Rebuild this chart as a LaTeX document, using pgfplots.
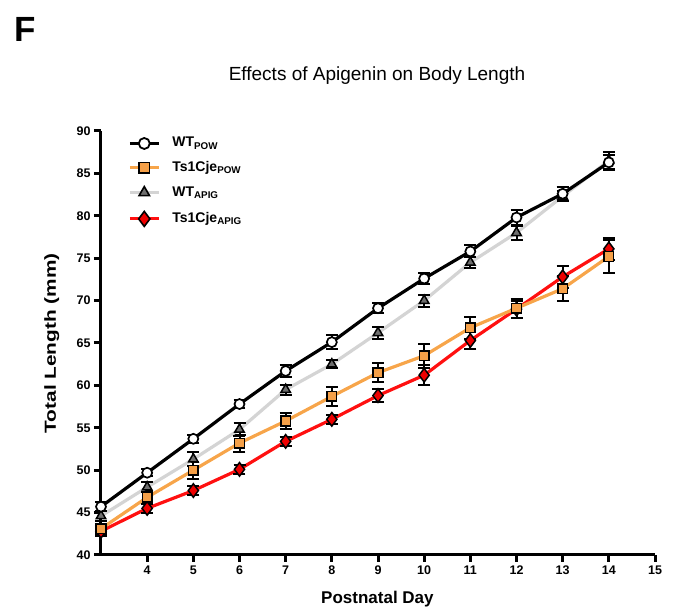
\documentclass[border=0pt]{standalone}
\usepackage{fontspec}
\setmainfont{Liberation Sans}
\usepackage{pgfplots}
\usepackage{pgfplotstable}
\pgfplotsset{compat=1.18}
\definecolor{wgray}{HTML}{D4D4D4}
\definecolor{tgray}{HTML}{6E6E6E}
\definecolor{lorange}{HTML}{F7A54A}
\definecolor{forange}{HTML}{F5A048}
\definecolor{lred}{HTML}{FF1010}
\definecolor{fred}{HTML}{EE0000}

\pgfplotstableread{
x y e
3 45.7 0.5
4 49.7 0.4
5 53.7 0.5
6 57.8 0.5
7 61.7 0.7
8 65.1 0.8
9 69.1 0.6
10 72.6 0.7
11 75.8 0.7
12 79.8 0.9
13 82.6 0.8
14 86.3 0.9
}\wtpow
\pgfplotstableread{
x y e
3 44.6 0.6
4 48.0 0.6
5 51.3 0.8
6 54.8 0.8
7 59.5 0.6
8 62.5 0.5
9 66.2 0.7
10 70.0 0.7
11 74.5 0.6
12 78.0 0.8
13 82.3 0.6
14 86.5 1.0
}\wtapig
\pgfplotstableread{
x y e
3 43.1 0.6
4 46.8 0.8
5 50.0 1.0
6 53.2 1.0
7 55.8 1.0
8 58.7 1.1
9 61.5 1.1
10 63.5 1.4
11 66.8 1.3
12 69.1 1.1
13 71.4 1.5
14 75.2 2.0
}\tspow
\pgfplotstableread{
x y e
3 42.8 0.6
4 45.5 0.5
5 47.6 0.5
6 50.1 0.5
7 53.4 0.5
8 56.0 0.5
9 58.8 0.8
10 61.2 1.2
11 65.3 1.0
12 69.0 1.0
13 72.8 1.3
14 76.1 1.3
}\tsapig

\begin{document}
\begin{tikzpicture}[x=1pt,y=1pt]
\useasboundingbox (0,0) rectangle (678,613);
\node[font=\bfseries\fontsize{35}{35}\selectfont, inner sep=0pt] at (25,583.5) {F};
\node[font=\fontsize{19}{19}\selectfont] at (377,537) {Effects of Apigenin on Body Length};
\begin{axis}[
  at={(101pt,58pt)}, anchor=south west,
  scale only axis, width=554pt, height=424pt,
  xmin=3, xmax=15, ymin=40, ymax=90,
  xtick={4,5,...,15}, ytick={40,45,...,90},
  axis x line=bottom, axis y line=left,
  axis line style={-, line width=3pt, black},
  tick align=outside, major tick length=7pt,
  every tick/.style={black, line width=3pt},
  ticklabel style={font=\bfseries\fontsize{12.5}{12.5}\selectfont},
  /pgf/number format/assume math mode=true,
  xlabel={Postnatal Day}, ylabel={\scalebox{1.3}[1]{Total Length (mm)}},
  xlabel style={font=\bfseries\fontsize{17}{17}\selectfont, at={(axis description cs:0.499,-0.104)}, anchor=center},
  ylabel style={font=\bfseries\fontsize{16}{16}\selectfont, at={(axis description cs:-0.089,0.499)}, anchor=center},
  clip=false,
  legend image code/.code={\draw[mark repeat=2,mark phase=2,#1] plot coordinates {(0pt,0pt) (14.5pt,0pt) (29pt,0pt)};},
  legend cell align=left,
  legend style={at={(axis description cs:0.0487,0.984)}, anchor=north west, draw=none, fill=none, inner sep=0pt,
    font=\bfseries\fontsize{14}{14}\selectfont, row sep=13.3pt, column sep=12pt,
    nodes={inner sep=0pt, text height=9pt, text depth=2pt}},
  error bars/error bar style={black, line width=2pt},
  error bars/error mark options={rotate=90, mark size=6pt, line width=2pt, black},
]
\addlegendimage{black, line width=3.2pt, mark=*, mark options={fill=white, draw=black, line width=1.8pt}, mark size=5.5pt}
\addlegendentry{WT\textsubscript{POW}}
\addlegendimage{lorange, line width=3.2pt, mark=square*, mark options={fill=forange, draw=black, line width=1.6pt}, mark size=5.3pt}
\addlegendentry{Ts1Cje\textsubscript{POW}}
\addlegendimage{wgray, line width=3.2pt, mark=triangle*, mark options={fill=tgray, draw=black, line width=1.6pt}, mark size=6pt}
\addlegendentry{WT\textsubscript{APIG}}
\addlegendimage{lred, line width=3.2pt, mark=diamond*, mark options={fill=fred, draw=black, line width=1.6pt}, mark size=7.5pt}
\addlegendentry{Ts1Cje\textsubscript{APIG}}

\addplot[forget plot, lred, line width=3.2pt, mark=diamond*, mark options={fill=fred, draw=black, line width=1.5pt}, mark size=6.8pt,
  error bars/.cd, y dir=both, y explicit] table[x=x, y=y, y error=e] {\tsapig};
\addplot[forget plot, lorange, line width=3.2pt, mark=square*, mark options={fill=forange, draw=black, line width=1.5pt}, mark size=4.8pt,
  error bars/.cd, y dir=both, y explicit] table[x=x, y=y, y error=e] {\tspow};
\addplot[forget plot, wgray, line width=3.2pt, mark=triangle*, mark options={fill=tgray, draw=black, line width=1.5pt}, mark size=5.5pt,
  error bars/.cd, y dir=both, y explicit] table[x=x, y=y, y error=e] {\wtapig};
\addplot[forget plot, black, line width=3.2pt, mark=*, mark options={fill=white, draw=black, line width=1.7pt}, mark size=5pt,
  error bars/.cd, y dir=both, y explicit] table[x=x, y=y, y error=e] {\wtpow};
\end{axis}
\end{tikzpicture}
\end{document}
